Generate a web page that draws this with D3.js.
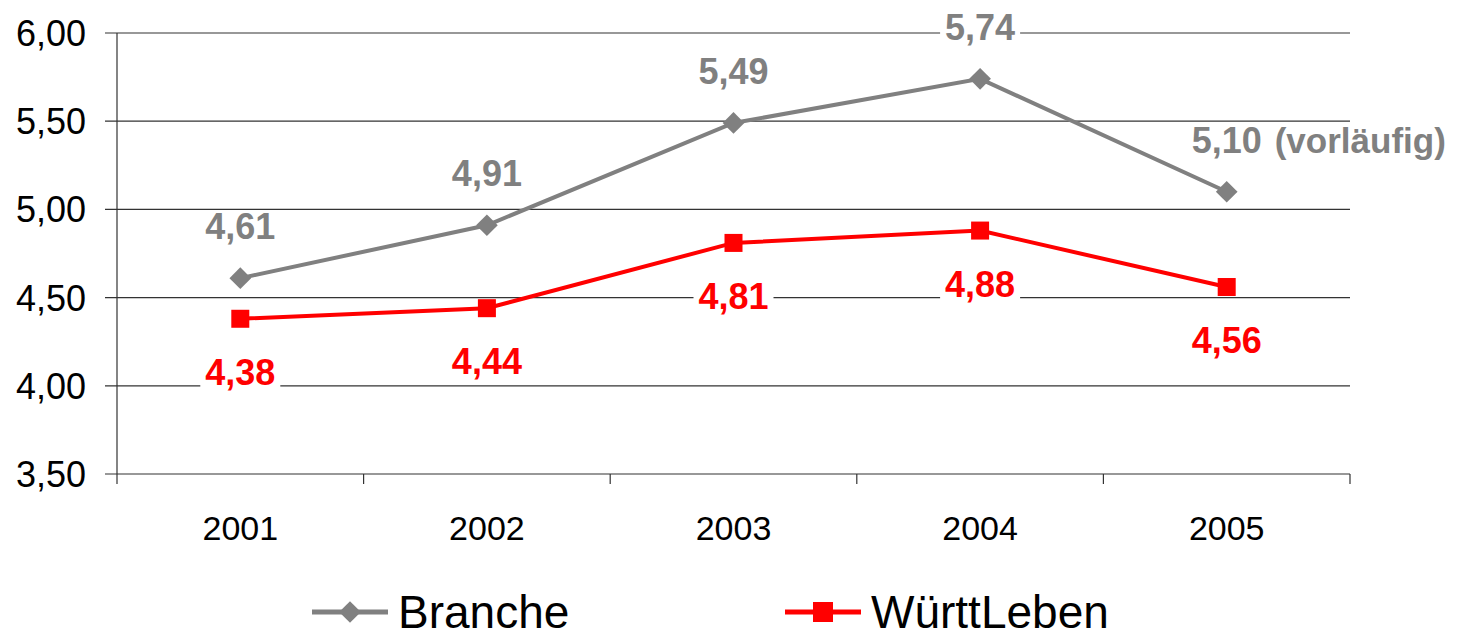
<!DOCTYPE html>
<html>
<head>
<meta charset="utf-8">
<script src="https://cdn.jsdelivr.net/npm/d3@7"></script>
<style>
  body { margin: 0; background: #fff; }
  svg text { font-family: "Liberation Sans", Arial, sans-serif; }
</style>
</head>
<body>
<div id="chart"></div>
<script>
var years = ["2001", "2002", "2003", "2004", "2005"];
var branche = [4.61, 4.91, 5.49, 5.74, 5.10];
var wuertt = [4.38, 4.44, 4.81, 4.88, 4.56];
var yTicks = [3.5, 4.0, 4.5, 5.0, 5.5, 6.0];

var W = 1462, H = 634;
var plotL = 117, plotR = 1350, plotT = 33, plotB = 474;

var svg = d3.select("#chart").append("svg")
    .attr("width", W)
    .attr("height", H);

var x = d3.scaleBand().domain(years).range([plotL, plotR]).padding(0);
var y = d3.scaleLinear().domain([3.5, 6]).range([plotB, plotT]);
var cx = function(d, i) { return x(years[i]) + x.bandwidth() / 2; };
var fmt = function(v) { return d3.format(".2f")(v).replace(".", ","); };

// grid lines
svg.append("g").selectAll("line")
    .data(yTicks)
    .enter().append("line")
    .attr("x1", plotL - 12).attr("x2", plotR)
    .attr("y1", function(d) { return y(d); })
    .attr("y2", function(d) { return y(d); })
    .attr("stroke", "#333").attr("stroke-width", 1.2);

// y axis line
svg.append("line")
    .attr("x1", plotL).attr("x2", plotL)
    .attr("y1", plotT).attr("y2", plotB + 10)
    .attr("stroke", "#333").attr("stroke-width", 1.2);

// y labels
svg.append("g").selectAll("text")
    .data(yTicks)
    .enter().append("text")
    .attr("x", 86)
    .attr("y", function(d) { return y(d) + 13; })
    .attr("text-anchor", "end")
    .attr("font-size", "36px")
    .text(fmt);

// x ticks (band boundaries)
var bounds = years.map(function(d) { return x(d); }).concat([plotR]);
svg.append("g").selectAll("line")
    .data(bounds.slice(1))
    .enter().append("line")
    .attr("x1", function(d) { return d; }).attr("x2", function(d) { return d; })
    .attr("y1", plotB).attr("y2", plotB + 10)
    .attr("stroke", "#333").attr("stroke-width", 1.2);

svg.append("g").selectAll("text")
    .data(years)
    .enter().append("text")
    .attr("x", function(d) { return x(d) + x.bandwidth() / 2; })
    .attr("y", 540)
    .attr("text-anchor", "middle")
    .attr("font-size", "34px")
    .text(function(d) { return d; });

var line = d3.line()
    .x(cx)
    .y(function(d) { return y(d); });

// Branche series
svg.append("path")
    .datum(branche)
    .attr("d", line)
    .attr("fill", "none")
    .attr("stroke", "#808080")
    .attr("stroke-width", 4);

svg.append("g").selectAll("path")
    .data(branche)
    .enter().append("path")
    .attr("d", d3.symbol().type(d3.symbolDiamond2).size(300))
    .attr("transform", function(d, i) { return "translate(" + cx(d, i) + "," + y(d) + ")"; })
    .attr("fill", "#808080");

// WürttLeben series
svg.append("path")
    .datum(wuertt)
    .attr("d", line)
    .attr("fill", "none")
    .attr("stroke", "#ff0000")
    .attr("stroke-width", 4);

svg.append("g").selectAll("rect")
    .data(wuertt)
    .enter().append("rect")
    .attr("x", function(d, i) { return cx(d, i) - 9; })
    .attr("y", function(d) { return y(d) - 9; })
    .attr("width", 18).attr("height", 18)
    .attr("fill", "#ff0000");

// value labels with white backing
function addLabels(data, color, dy) {
  var g = svg.append("g").selectAll("g")
      .data(data)
      .enter().append("g")
      .attr("transform", function(d, i) { return "translate(" + cx(d, i) + "," + (y(d) + dy) + ")"; });
  g.append("rect")
      .attr("x", -40).attr("y", -28)
      .attr("width", 80).attr("height", 34)
      .attr("fill", "#fff");
  g.append("text")
      .attr("text-anchor", "middle")
      .attr("font-size", "36px")
      .attr("font-weight", "bold")
      .attr("fill", color)
      .text(fmt);
}
addLabels(branche, "#808080", -39);
addLabels(wuertt, "#ff0000", 66);

// "(vorläufig)" note beside the 2005 Branche label
var last = branche.length - 1;
var note = svg.append("g")
    .attr("transform", "translate(" + (cx(branche[last], last) + 48) + "," + (y(branche[last]) - 39) + ")");
note.append("rect")
    .attr("x", -2).attr("y", -28).attr("width", 186).attr("height", 38)
    .attr("fill", "#fff");
note.append("text")
    .attr("font-size", "35px")
    .attr("font-weight", "bold")
    .attr("fill", "#808080")
    .text("(vorläufig)");

// legend
var legend = [
  {name: "Branche", color: "#808080", x: 312, mark: "diamond"},
  {name: "WürttLeben", color: "#ff0000", x: 785, mark: "square"}
];
var lg = svg.append("g").selectAll("g")
    .data(legend)
    .enter().append("g")
    .attr("transform", function(d) { return "translate(" + d.x + ",612)"; });
lg.append("line")
    .attr("x1", 0).attr("x2", 76)
    .attr("stroke", function(d) { return d.color; })
    .attr("stroke-width", 5);
lg.each(function(d) {
  var s = d3.select(this);
  if (d.mark === "diamond") {
    s.append("path")
      .attr("d", d3.symbol().type(d3.symbolDiamond2).size(300))
      .attr("transform", "translate(38,0)")
      .attr("fill", d.color);
  } else {
    s.append("rect")
      .attr("x", 28).attr("y", -10).attr("width", 20).attr("height", 20)
      .attr("fill", d.color);
  }
});
lg.append("text")
    .attr("x", 86)
    .attr("y", 16)
    .attr("font-size", "46px")
    .text(function(d) { return d.name; });
</script>
</body>
</html>
